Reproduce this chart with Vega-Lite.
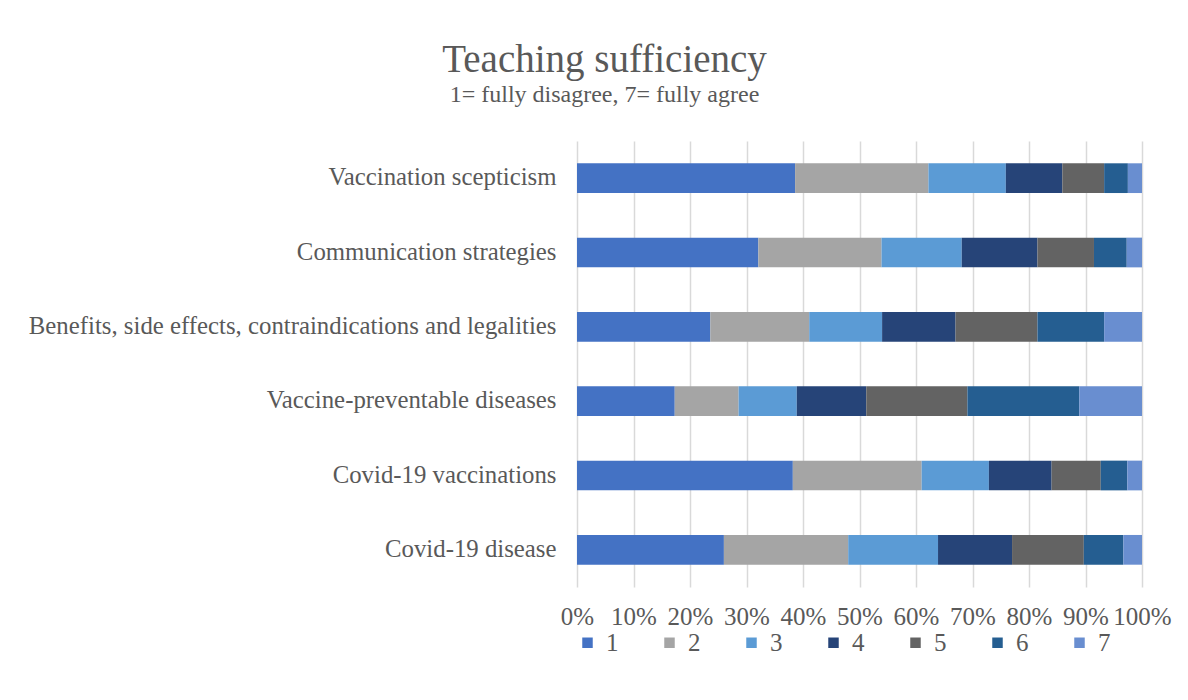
{
  "$schema": "https://vega.github.io/schema/vega-lite/v6.json",
  "width": 565,
  "height": 446,
  "autosize": {"type": "none"},
  "padding": {"left": 577, "top": 141, "right": 46, "bottom": 113},
  "background": "white",
  "title": {
    "text": "Teaching sufficiency",
    "subtitle": "1= fully disagree, 7= fully agree",
    "anchor": "middle",
    "frame": "group",
    "dx": -255,
    "offset": 34,
    "font": "Liberation Serif",
    "fontSize": 39,
    "fontWeight": "normal",
    "color": "#595959",
    "subtitleFont": "Liberation Serif",
    "subtitleFontSize": 24,
    "subtitleColor": "#595959",
    "subtitlePadding": 3
  },
  "data": {
    "values": [
      {"topic": "Vaccination scepticism", "rating": "1", "pct": 38.6},
      {"topic": "Vaccination scepticism", "rating": "2", "pct": 23.6},
      {"topic": "Vaccination scepticism", "rating": "3", "pct": 13.7},
      {"topic": "Vaccination scepticism", "rating": "4", "pct": 10.0},
      {"topic": "Vaccination scepticism", "rating": "5", "pct": 7.4},
      {"topic": "Vaccination scepticism", "rating": "6", "pct": 4.2},
      {"topic": "Vaccination scepticism", "rating": "7", "pct": 2.5},
      {"topic": "Communication strategies", "rating": "1", "pct": 32.1},
      {"topic": "Communication strategies", "rating": "2", "pct": 21.8},
      {"topic": "Communication strategies", "rating": "3", "pct": 14.2},
      {"topic": "Communication strategies", "rating": "4", "pct": 13.4},
      {"topic": "Communication strategies", "rating": "5", "pct": 10.0},
      {"topic": "Communication strategies", "rating": "6", "pct": 5.8},
      {"topic": "Communication strategies", "rating": "7", "pct": 2.7},
      {"topic": "Benefits, side effects, contraindications and legalities", "rating": "1", "pct": 23.6},
      {"topic": "Benefits, side effects, contraindications and legalities", "rating": "2", "pct": 17.5},
      {"topic": "Benefits, side effects, contraindications and legalities", "rating": "3", "pct": 12.9},
      {"topic": "Benefits, side effects, contraindications and legalities", "rating": "4", "pct": 13.0},
      {"topic": "Benefits, side effects, contraindications and legalities", "rating": "5", "pct": 14.5},
      {"topic": "Benefits, side effects, contraindications and legalities", "rating": "6", "pct": 11.8},
      {"topic": "Benefits, side effects, contraindications and legalities", "rating": "7", "pct": 6.7},
      {"topic": "Vaccine-preventable diseases", "rating": "1", "pct": 17.3},
      {"topic": "Vaccine-preventable diseases", "rating": "2", "pct": 11.3},
      {"topic": "Vaccine-preventable diseases", "rating": "3", "pct": 10.3},
      {"topic": "Vaccine-preventable diseases", "rating": "4", "pct": 12.3},
      {"topic": "Vaccine-preventable diseases", "rating": "5", "pct": 17.9},
      {"topic": "Vaccine-preventable diseases", "rating": "6", "pct": 19.8},
      {"topic": "Vaccine-preventable diseases", "rating": "7", "pct": 11.1},
      {"topic": "Covid-19 vaccinations", "rating": "1", "pct": 38.2},
      {"topic": "Covid-19 vaccinations", "rating": "2", "pct": 22.8},
      {"topic": "Covid-19 vaccinations", "rating": "3", "pct": 11.9},
      {"topic": "Covid-19 vaccinations", "rating": "4", "pct": 11.1},
      {"topic": "Covid-19 vaccinations", "rating": "5", "pct": 8.7},
      {"topic": "Covid-19 vaccinations", "rating": "6", "pct": 4.7},
      {"topic": "Covid-19 vaccinations", "rating": "7", "pct": 2.6},
      {"topic": "Covid-19 disease", "rating": "1", "pct": 26.0},
      {"topic": "Covid-19 disease", "rating": "2", "pct": 22.0},
      {"topic": "Covid-19 disease", "rating": "3", "pct": 15.9},
      {"topic": "Covid-19 disease", "rating": "4", "pct": 13.1},
      {"topic": "Covid-19 disease", "rating": "5", "pct": 12.7},
      {"topic": "Covid-19 disease", "rating": "6", "pct": 7.0},
      {"topic": "Covid-19 disease", "rating": "7", "pct": 3.3}
    ]
  },
  "mark": {"type": "bar"},
  "encoding": {
    "y": {
      "field": "topic",
      "type": "nominal",
      "sort": [
        "Vaccination scepticism",
        "Communication strategies",
        "Benefits, side effects, contraindications and legalities",
        "Vaccine-preventable diseases",
        "Covid-19 vaccinations",
        "Covid-19 disease"
      ],
      "scale": {"paddingInner": 0.6, "paddingOuter": 0.3},
      "axis": {
        "title": null,
        "ticks": false,
        "domain": false,
        "grid": false,
        "labelFont": "Liberation Serif",
        "labelFontSize": 24.8,
        "labelColor": "#595959",
        "labelPadding": 21,
        "labelLimit": 700
      }
    },
    "x": {
      "field": "pct",
      "type": "quantitative",
      "stack": "normalize",
      "scale": {"domain": [0, 1], "nice": false},
      "axis": {
        "title": null,
        "format": ".0%",
        "values": [0, 0.1, 0.2, 0.3, 0.4, 0.5, 0.6, 0.7, 0.8, 0.9, 1],
        "ticks": false,
        "domain": false,
        "grid": true,
        "gridColor": "#D9D9D9",
        "gridWidth": 1.5,
        "labelFont": "Liberation Serif",
        "labelFontSize": 25,
        "labelColor": "#595959",
        "labelPadding": 17,
        "labelFlush": false
      }
    },
    "color": {
      "field": "rating",
      "type": "nominal",
      "scale": {
        "domain": ["1", "2", "3", "4", "5", "6", "7"],
        "range": ["#4472C4", "#A5A5A5", "#5B9BD5", "#264478", "#636363", "#255E91", "#698ED0"]
      },
      "legend": {
        "title": null,
        "orient": "none",
        "direction": "horizontal",
        "columns": 7,
        "legendX": -2,
        "legendY": 489,
        "symbolType": "square",
        "symbolSize": 110,
        "symbolStrokeWidth": 0,
        "labelFont": "Liberation Serif",
        "labelFontSize": 25,
        "labelColor": "#595959",
        "labelOffset": 6,
        "columnPadding": 38
      }
    },
    "order": {"field": "rating", "type": "ordinal", "sort": "ascending"}
  },
  "config": {
    "view": {"stroke": null}
  }
}
